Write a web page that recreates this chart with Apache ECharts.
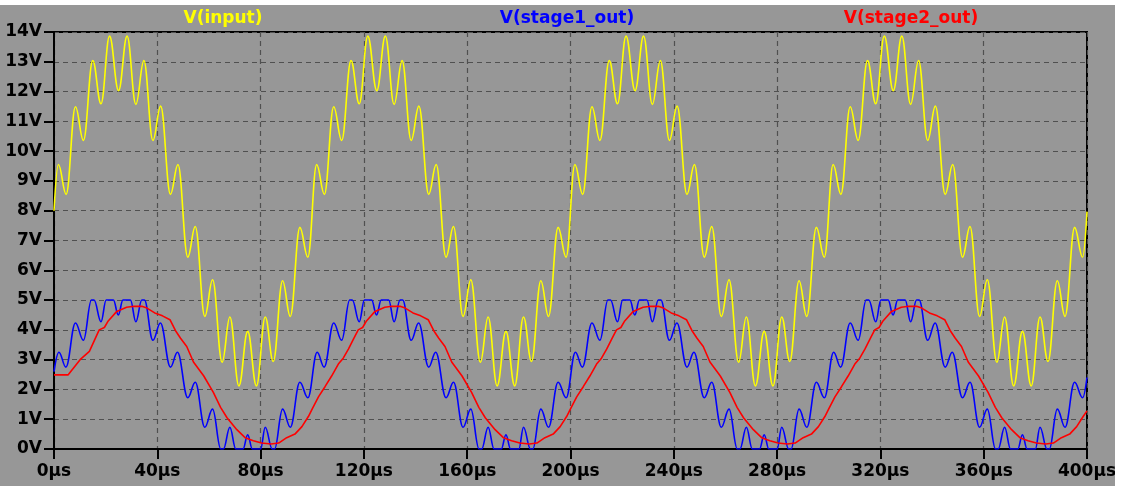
<!DOCTYPE html>
<html>
<head>
<meta charset="utf-8">
<title>Transient</title>
<script src="https://cdn.jsdelivr.net/npm/echarts@6/dist/echarts.min.js"></script>
<style>
  html, body { margin: 0; padding: 0; background: #ffffff; }
  #chart { position: absolute; left: 0; top: 5px; width: 1115px; height: 481px; }
</style>
</head>
<body>
<div id="chart"></div>
<script>
// Trace names and colours
const traceNames = ['V(input)', 'V(stage1_out)', 'V(stage2_out)'];
const traceColors = ['#ffff00', '#0000ff', '#ff0000'];

// Axis ticks
const timeTicks = [0, 40, 80, 120, 160, 200, 240, 280, 320, 360, 400]; // µs
const voltTicks = [0, 1, 2, 3, 4, 5, 6, 7, 8, 9, 10, 11, 12, 13, 14];  // V

// V(input): local peaks and troughs, [time µs, volts]
const inputWave = [
  [0,8.0],[1.7,9.55],[4.7,8.55],[8.3,11.49],[11.4,10.36],[15.0,13.04],[18.2,11.59],[21.5,13.86],[25.0,12.03],[28.3,13.86],[31.7,11.57],[34.8,13.04],[38.3,10.36],[41.3,11.51],[45.1,8.55],[48.0,9.55],
  [51.8,6.44],[54.7,7.47],[58.4,4.45],[61.4,5.68],[65.1,2.91],[68.1,4.43],[71.6,2.12],[75.0,3.95],[78.4,2.12],[81.8,4.43],[84.9,2.94],[88.5,5.65],[91.5,4.45],[95.2,7.44],[98.3,6.44],
  [101.7,9.55],[104.7,8.55],[108.3,11.49],[111.4,10.36],[115.0,13.04],[118.2,11.59],[121.5,13.86],[125.0,12.03],[128.3,13.86],[131.7,11.57],[134.8,13.04],[138.3,10.36],[141.3,11.51],[145.1,8.55],[148.0,9.55],
  [151.8,6.44],[154.7,7.47],[158.4,4.45],[161.4,5.68],[165.1,2.91],[168.1,4.43],[171.6,2.12],[175.0,3.95],[178.4,2.12],[181.8,4.43],[184.9,2.94],[188.5,5.65],[191.5,4.45],[195.2,7.44],[198.3,6.44],
  [201.7,9.55],[204.7,8.55],[208.3,11.49],[211.4,10.36],[215.0,13.04],[218.2,11.59],[221.5,13.86],[225.0,12.03],[228.3,13.86],[231.7,11.57],[234.8,13.04],[238.3,10.36],[241.3,11.51],[245.1,8.55],[248.0,9.55],
  [251.8,6.44],[254.7,7.47],[258.4,4.45],[261.4,5.68],[265.1,2.91],[268.1,4.43],[271.6,2.12],[275.0,3.95],[278.4,2.12],[281.8,4.43],[284.9,2.94],[288.5,5.65],[291.5,4.45],[295.2,7.44],[298.3,6.44],
  [301.7,9.55],[304.7,8.55],[308.3,11.49],[311.4,10.36],[315.0,13.04],[318.2,11.59],[321.5,13.86],[325.0,12.03],[328.3,13.86],[331.7,11.57],[334.8,13.04],[338.3,10.36],[341.3,11.51],[345.1,8.55],[348.0,9.55],
  [351.8,6.44],[354.7,7.47],[358.4,4.45],[361.4,5.68],[365.1,2.91],[368.1,4.43],[371.6,2.12],[375.0,3.95],[378.4,2.12],[381.8,4.43],[384.9,2.94],[388.5,5.65],[391.5,4.45],[395.2,7.44],[398.3,6.44],
  [400,7.97]
];

// V(stage1_out): clipped between 0 V and 5 V
const stage1Wave = [
  [0,2.6],[1.9,3.25],[4.6,2.75],[8.3,4.23],[11.4,3.65],[14.5,5.0],[15.5,5.0],[18.2,4.27],[20.2,5.0],[23.0,5.0],[24.9,4.5],[26.7,5.0],[29.6,5.0],[31.7,4.27],[34.0,5.0],[35.0,5.0],[38.3,3.65],[41.2,4.23],[45.1,2.75],[47.8,3.25],
  [51.8,1.72],[54.7,2.24],[58.4,0.73],[61.4,1.34],[64.6,0],[65.6,0],[68.1,0.73],[70.4,0],[73.2,0],[75.0,0.48],[76.8,0],[80.0,0],[81.8,0.73],[84.5,0],[85.4,0],[88.5,1.34],[91.5,0.73],[95.2,2.24],[98.3,1.72],
  [101.9,3.25],[104.6,2.75],[108.3,4.23],[111.4,3.65],[114.5,5.0],[115.5,5.0],[118.2,4.27],[120.2,5.0],[123.0,5.0],[124.9,4.5],[126.7,5.0],[129.6,5.0],[131.7,4.27],[134.0,5.0],[135.0,5.0],[138.3,3.65],[141.2,4.23],[145.1,2.75],[147.8,3.25],
  [151.8,1.72],[154.7,2.24],[158.4,0.73],[161.4,1.34],[164.6,0],[165.6,0],[168.1,0.73],[170.4,0],[173.2,0],[175.0,0.48],[176.8,0],[180.0,0],[181.8,0.73],[184.5,0],[185.4,0],[188.5,1.34],[191.5,0.73],[195.2,2.24],[198.3,1.72],
  [201.9,3.25],[204.6,2.75],[208.3,4.23],[211.4,3.65],[214.5,5.0],[215.5,5.0],[218.2,4.27],[220.2,5.0],[223.0,5.0],[224.9,4.5],[226.7,5.0],[229.6,5.0],[231.7,4.27],[234.0,5.0],[235.0,5.0],[238.3,3.65],[241.2,4.23],[245.1,2.75],[247.8,3.25],
  [251.8,1.72],[254.7,2.24],[258.4,0.73],[261.4,1.34],[264.6,0],[265.6,0],[268.1,0.73],[270.4,0],[273.2,0],[275.0,0.48],[276.8,0],[280.0,0],[281.8,0.73],[284.5,0],[285.4,0],[288.5,1.34],[291.5,0.73],[295.2,2.24],[298.3,1.72],
  [301.9,3.25],[304.6,2.75],[308.3,4.23],[311.4,3.65],[314.5,5.0],[315.5,5.0],[318.2,4.27],[320.2,5.0],[323.0,5.0],[324.9,4.5],[326.7,5.0],[329.6,5.0],[331.7,4.27],[334.0,5.0],[335.0,5.0],[338.3,3.65],[341.2,4.23],[345.1,2.75],[347.8,3.25],
  [351.8,1.72],[354.7,2.24],[358.4,0.73],[361.4,1.34],[364.6,0],[365.6,0],[368.1,0.73],[370.4,0],[373.2,0],[375.0,0.48],[376.8,0],[380.0,0],[381.8,0.73],[384.5,0],[385.4,0],[388.5,1.34],[391.5,0.73],[395.2,2.24],[398.3,1.72],
  [400,2.4]
];

// V(stage2_out): filtered output
const stage2Wave = [
  [0,2.49],[5.5,2.49],[10.1,3.0],[13.7,3.28],[17.5,4.0],[19.5,4.08],[21,4.3],[24.3,4.62],[28.1,4.76],[31,4.79],[34,4.79],[36,4.73],[39,4.57],[42,4.47],[44.9,4.34],[47,3.98],[49,3.72],
  [51.4,3.44],[54,2.92],[58,2.45],[61.7,1.9],[64.5,1.4],[67,1.05],[70.8,0.65],[74,0.38],[77.2,0.28],[80.4,0.2],[84,0.17],[87,0.2],[90.1,0.38],[93.3,0.5],[96,0.75],[98.5,1.09],
  [100,1.35],[102.4,1.75],[105,2.1],[107.5,2.45],[110.1,2.85],[112,3.05],[114,3.35],[116,3.7],[117.8,4.0],[119.5,4.08],[121,4.3],[124.3,4.62],[128.1,4.76],[131,4.79],[134,4.79],[136,4.73],[139,4.57],[142,4.47],[144.9,4.34],[147,3.98],[149,3.72],
  [151.4,3.44],[154,2.92],[158,2.45],[161.7,1.9],[164.5,1.4],[167,1.05],[170.8,0.65],[174,0.38],[177.2,0.28],[180.4,0.2],[184,0.17],[187,0.2],[190.1,0.38],[193.3,0.5],[196,0.75],[198.5,1.09],
  [200,1.35],[202.4,1.75],[205,2.1],[207.5,2.45],[210.1,2.85],[212,3.05],[214,3.35],[216,3.7],[217.8,4.0],[219.5,4.08],[221,4.3],[224.3,4.62],[228.1,4.76],[231,4.79],[234,4.79],[236,4.73],[239,4.57],[242,4.47],[244.9,4.34],[247,3.98],[249,3.72],
  [251.4,3.44],[254,2.92],[258,2.45],[261.7,1.9],[264.5,1.4],[267,1.05],[270.8,0.65],[274,0.38],[277.2,0.28],[280.4,0.2],[284,0.17],[287,0.2],[290.1,0.38],[293.3,0.5],[296,0.75],[298.5,1.09],
  [300,1.35],[302.4,1.75],[305,2.1],[307.5,2.45],[310.1,2.85],[312,3.05],[314,3.35],[316,3.7],[317.8,4.0],[319.5,4.08],[321,4.3],[324.3,4.62],[328.1,4.76],[331,4.79],[334,4.79],[336,4.73],[339,4.57],[342,4.47],[344.9,4.34],[347,3.98],[349,3.72],
  [351.4,3.44],[354,2.92],[358,2.45],[361.7,1.9],[364.5,1.4],[367,1.05],[370.8,0.65],[374,0.38],[377.2,0.28],[380.4,0.2],[384,0.17],[387,0.2],[390.1,0.38],[393.3,0.5],[396,0.75],[398.5,1.09],
  [400,1.28]
];

const chart = echarts.init(document.getElementById('chart'), null, { renderer: 'canvas' });

const labelFont = {
  color: '#000000',
  fontFamily: 'DejaVu Sans',
  fontWeight: 'bold',
  fontSize: 17
};

const titleX = [223, 567, 911];
// ripple traces are stored as extremes; rounded between them
const smoothing = [0.4, 0.4, 0];

chart.setOption({
  backgroundColor: '#979797',
  animation: false,
  grid: {
    left: 54, right: 28, top: 27, bottom: 37,
    outerBoundsMode: 'none',
    containLabel: false,
    show: true, borderColor: '#000000', borderWidth: 2,
    backgroundColor: 'transparent'
  },
  graphic: traceNames.map((name, i) => ({
    type: 'text',
    x: titleX[i],
    y: 14,
    style: {
      text: name,
      fill: traceColors[i],
      font: 'bold 17px "DejaVu Sans"',
      textAlign: 'center',
      textVerticalAlign: 'middle'
    }
  })),
  xAxis: {
    type: 'value',
    min: timeTicks[0],
    max: timeTicks[timeTicks.length - 1],
    interval: 40,
    axisLine: { show: true, lineStyle: { color: '#000000', width: 2 } },
    axisTick: { show: true, length: 10, lineStyle: { color: '#000000', width: 2 } },
    axisLabel: Object.assign({ margin: 14, formatter: v => v + 'µs' }, labelFont),
    splitLine: { show: true, lineStyle: { color: '#505050', type: [5, 4], width: 1.2 } }
  },
  yAxis: {
    type: 'value',
    min: voltTicks[0],
    max: voltTicks[voltTicks.length - 1],
    interval: 1,
    axisLine: { show: true, lineStyle: { color: '#000000', width: 2 } },
    axisTick: { show: true, length: 10, lineStyle: { color: '#000000', width: 2 } },
    axisLabel: Object.assign({ margin: 12, formatter: v => v + 'V' }, labelFont),
    splitLine: { show: true, lineStyle: { color: '#505050', type: [5, 4], width: 1.2 } }
  },
  series: [inputWave, stage1Wave, stage2Wave].map((data, i) => ({
    name: traceNames[i],
    type: 'line',
    data: data,
    showSymbol: false,
    symbol: 'none',
    smooth: smoothing[i],
    smoothMonotone: smoothing[i] ? 'x' : undefined,
    clip: true,
    lineStyle: { color: traceColors[i], width: 1.6 }
  }))
});
</script>
</body>
</html>
